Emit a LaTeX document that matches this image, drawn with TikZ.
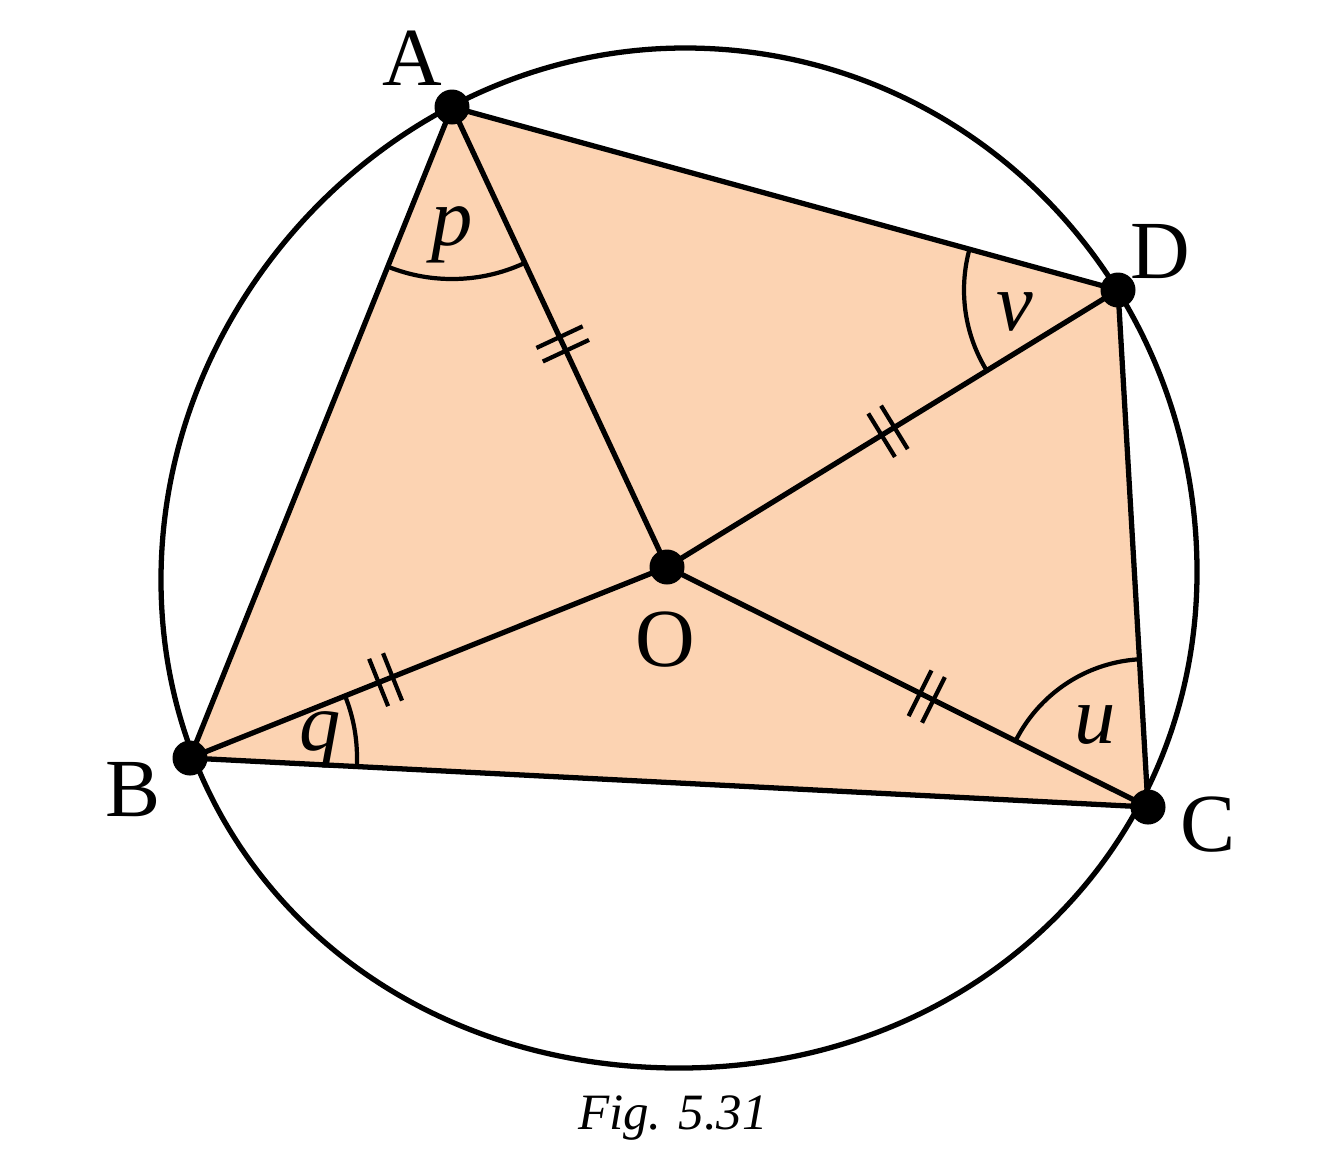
\documentclass[tikz,border=0pt]{standalone}
\usepackage{fontspec}
\setmainfont{Liberation Serif}
\usetikzlibrary{calc}
\definecolor{peach}{RGB}{252,211,178}
\tikzset{
  edge/.style={line width=1.5pt, line cap=round, line join=round},
  anglearc/.style={line width=1.2pt},
  tickline/.style={line width=1.2pt},
  dot/.style={circle, fill=black, inner sep=0pt, minimum size=0.35cm},
  ptlabel/.style={font=\fontsize{23.5}{28}\selectfont, inner sep=0pt},
  anglabel/.style={font=\fontsize{23.5}{28}\selectfont\itshape, inner sep=0pt},
  dticks/.pic={\draw[tickline] (-0.075,-0.255) -- (-0.075,0.255) (0.075,-0.255) -- (0.075,0.255);}
}
\begin{document}
\begin{tikzpicture}
\useasboundingbox (0,0) rectangle (13.43,-11.71);
\coordinate (A) at (4.52,-1.07);
\coordinate (B) at (1.90,-7.58);
\coordinate (C) at (11.48,-8.07);
\coordinate (D) at (11.18,-2.90);
\coordinate (O) at (6.67,-5.67);
% extreme points of the circle
\coordinate (cT) at (6.85,-0.48);
\coordinate (cR) at (11.97,-5.72);
\coordinate (cB) at (6.79,-10.68);
\coordinate (cL) at (1.61,-5.80);
% fill
\fill[peach] (A) -- (D) -- (C) -- (B) -- cycle;
% angle arcs
\begin{scope}
  \clip (A) -- (B) -- (O) -- cycle;
  \draw[anglearc] (A) circle[radius=1.72cm];
\end{scope}
\begin{scope}
  \clip (D) -- (A) -- (O) -- cycle;
  \draw[anglearc] (D) circle[radius=1.54cm];
\end{scope}
\begin{scope}
  \clip (C) -- (O) -- (D) -- cycle;
  \draw[anglearc] (C) circle[radius=1.48cm];
\end{scope}
\begin{scope}
  \clip (B) -- (O) -- (C) -- cycle;
  \draw[anglearc] (B) circle[radius=1.67cm];
\end{scope}
% circle
\draw[edge] (cR) .. controls (11.97,-2.812) and (9.692,-0.48) .. (cT)
  .. controls (4.020,-0.48) and (1.61,-2.927) .. (cL)
  .. controls (1.61,-8.582) and (3.837,-10.68) .. (cB)
  .. controls (9.717,-10.68) and (11.97,-8.522) .. (cR) -- cycle;
% quadrilateral
\draw[edge] (A) -- (D) -- (C) -- (B) -- cycle;
% radii
\draw[edge] (A) -- (O);
\draw[edge] (B) -- (O);
\draw[edge] (C) -- (O);
\draw[edge] (D) -- (O);
% tick marks
\path (A) -- (O) pic[pos=0.515, sloped] {dticks};
\path (O) -- (D) pic[pos=0.49, sloped] {dticks};
\path (B) -- (O) pic[pos=0.41, sloped] {dticks};
\path (O) -- (C) pic[pos=0.54, sloped] {dticks};
% dots
\node[dot] (dA) at (A) {};
\node[dot] (dB) at (B) {};
\node[dot] (dC) at (C) {};
\node[dot] (dD) at (D) {};
\node[dot] (dO) at (O) {};
% labels
\node[ptlabel] (lA) at (4.12,-0.58) {A};
\node[ptlabel] (lD) at (11.60,-2.52) {D};
\node[ptlabel] (lC) at (12.08,-8.25) {C};
\node[ptlabel] (lB) at (1.33,-7.90) {B};
\node[ptlabel] (lO) at (6.65,-6.40) {O};
\node[anglabel] (lp) at (4.52,-2.35) {p};
\node[anglabel] (lv) at (10.15,-3.12) {v};
\node[anglabel] (lu) at (10.95,-7.25) {u};
\node[anglabel] (lq) at (3.20,-7.40) {q};
\node[font=\fontsize{14.5}{17}\selectfont\itshape, inner sep=0pt] (cap) at (6.73,-11.18) {Fig. 5.31};
\end{tikzpicture}
\end{document}
